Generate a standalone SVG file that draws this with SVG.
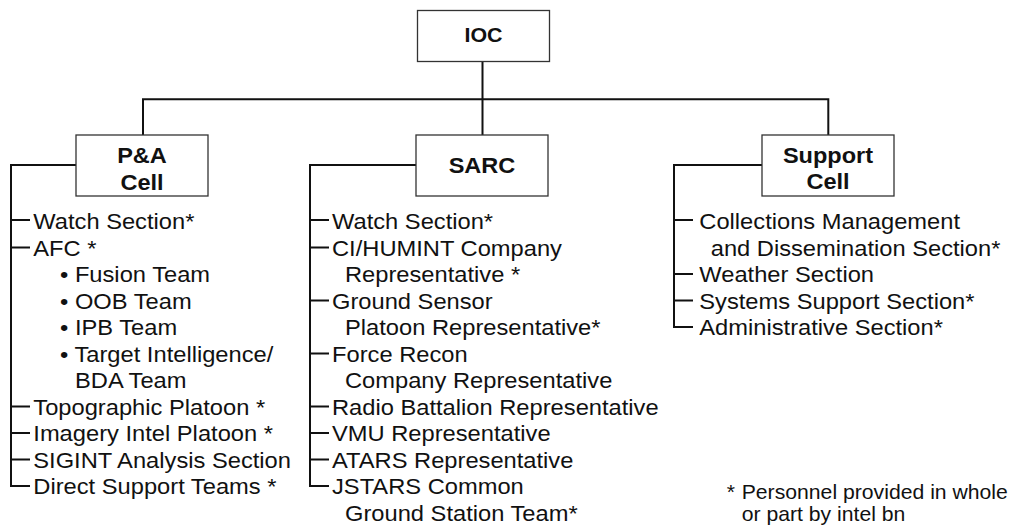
<svg xmlns="http://www.w3.org/2000/svg" width="1011" height="529" viewBox="0 0 1011 529">
<style>
.box{fill:#fff;stroke:#333;stroke-width:1.3}
.title{font-family:"Liberation Sans",Arial,Helvetica,sans-serif;font-weight:bold;font-size:22px;fill:#111;text-anchor:middle}
.item{font-family:"Liberation Sans",Arial,Helvetica,sans-serif;font-size:22px;fill:#111}
.note{font-family:"Liberation Sans",Arial,Helvetica,sans-serif;font-size:20px;fill:#111}
.conn{fill:none;stroke:#111;stroke-width:2}
</style>
<rect width="1011" height="529" fill="#fff"/>
<g id="connectors">
<path class="conn" d="M482.5 61 V135 M143 135 V99.3 H828.3 V135"/>
<path class="conn" d="M76 165 H11 V486 H30 M11 220 H30 M11 247.5 H30 M11 406.5 H30 M11 433 H30 M11 459.5 H30"/>
<path class="conn" d="M416 165 H310 V486 H329 M310 220 H329 M310 247.5 H329 M310 300.5 H329 M310 353.5 H329 M310 406.5 H329 M310 433 H329 M310 459.5 H329"/>
<path class="conn" d="M762 165 H674 V327 H693 M674 220 H693 M674 274 H693 M674 300.5 H693"/>
</g>
<g id="ioc">
<rect class="box" x="417.5" y="10.5" width="132" height="51"/>
<text class="title" style="font-size:20px" transform="translate(483.5 42) scale(1.07 1)">IOC</text>
</g>
<g id="pa-cell">
<rect class="box" x="76" y="135" width="132" height="61"/>
<text class="title" transform="translate(142 163) scale(1.07 1)">P&amp;A</text>
<text class="title" transform="translate(142 189.5) scale(1.07 1)">Cell</text>
<text class="item" transform="translate(33.3 229) scale(1.077 1)">Watch Section*</text>
<text class="item" transform="translate(33.3 255.5) scale(1.077 1)">AFC *</text>
<text class="item" transform="translate(60 282) scale(1.077 1)">• Fusion Team</text>
<text class="item" transform="translate(60 308.5) scale(1.077 1)">• OOB Team</text>
<text class="item" transform="translate(60 335) scale(1.077 1)">• IPB Team</text>
<text class="item" transform="translate(60 361.5) scale(1.077 1)">• Target Intelligence/</text>
<text class="item" transform="translate(75 388) scale(1.077 1)">BDA Team</text>
<text class="item" transform="translate(33.3 414.5) scale(1.077 1)">Topographic Platoon *</text>
<text class="item" transform="translate(33.3 441) scale(1.077 1)">Imagery Intel Platoon *</text>
<text class="item" transform="translate(33.3 467.5) scale(1.077 1)">SIGINT Analysis Section</text>
<text class="item" transform="translate(33.3 494) scale(1.077 1)">Direct Support Teams *</text>
</g>
<g id="sarc">
<rect class="box" x="416" y="135" width="132" height="61"/>
<text class="title" transform="translate(482 172.7) scale(1.07 1)">SARC</text>
<text class="item" transform="translate(332 229) scale(1.077 1)">Watch Section*</text>
<text class="item" transform="translate(332 255.5) scale(1.077 1)">CI/HUMINT Company</text>
<text class="item" transform="translate(345 282) scale(1.077 1)">Representative *</text>
<text class="item" transform="translate(332 308.5) scale(1.077 1)">Ground Sensor</text>
<text class="item" transform="translate(345 335) scale(1.077 1)">Platoon Representative*</text>
<text class="item" transform="translate(332 361.5) scale(1.077 1)">Force Recon</text>
<text class="item" transform="translate(345 388) scale(1.077 1)">Company Representative</text>
<text class="item" transform="translate(332 414.5) scale(1.077 1)">Radio Battalion Representative</text>
<text class="item" transform="translate(332 441) scale(1.077 1)">VMU Representative</text>
<text class="item" transform="translate(332 467.5) scale(1.077 1)">ATARS Representative</text>
<text class="item" transform="translate(332 494) scale(1.077 1)">JSTARS Common</text>
<text class="item" transform="translate(345 520.5) scale(1.077 1)">Ground Station Team*</text>
</g>
<g id="support-cell">
<rect class="box" x="762" y="135" width="132" height="61"/>
<text class="title" transform="translate(828 162.5) scale(1.07 1)">Support</text>
<text class="title" transform="translate(828 189) scale(1.07 1)">Cell</text>
<text class="item" transform="translate(699.3 229) scale(1.077 1)">Collections Management</text>
<text class="item" transform="translate(710.7 255.5) scale(1.077 1)">and Dissemination Section*</text>
<text class="item" transform="translate(699.3 282) scale(1.077 1)">Weather Section</text>
<text class="item" transform="translate(699.3 308.5) scale(1.077 1)">Systems Support Section*</text>
<text class="item" transform="translate(699.3 335) scale(1.077 1)">Administrative Section*</text>
</g>
<g id="footnote">
<text class="note" transform="translate(726.7 499) scale(1.06 1)">*</text>
<text class="note" transform="translate(741.7 499) scale(1.06 1)">Personnel provided in whole</text>
<text class="note" transform="translate(741.7 521) scale(1.06 1)">or part by intel bn</text>
</g>
</svg>
